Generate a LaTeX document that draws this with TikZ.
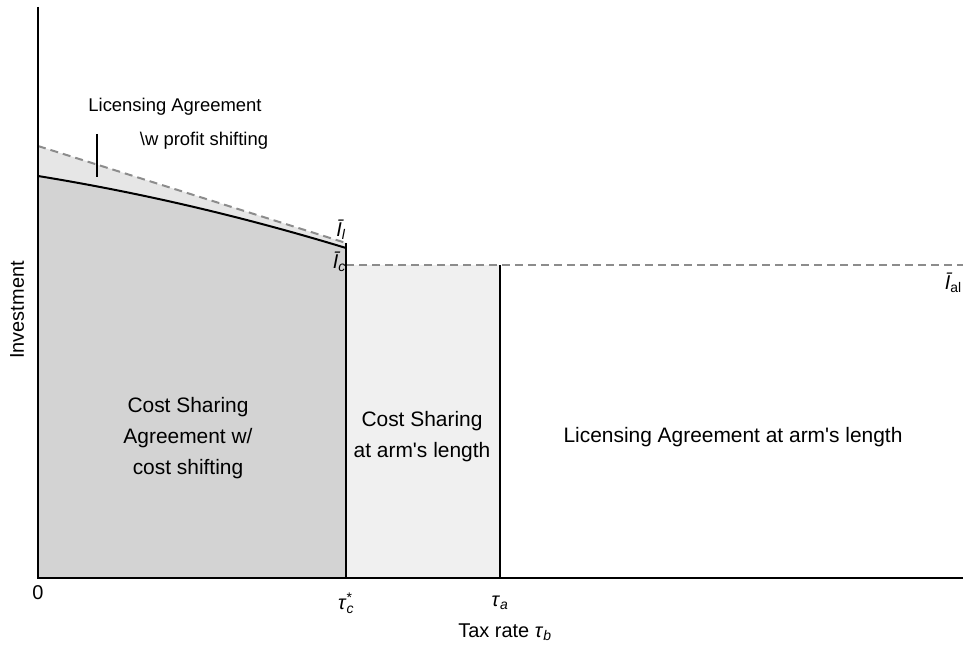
\documentclass[tikz,border=0pt]{standalone}
\usepackage{fontspec}
\setmainfont{Liberation Sans}[Ligatures=TeXOff]
\definecolor{darkfill}{HTML}{D3D3D3}
\definecolor{lightfill}{HTML}{E6E6E6}
\definecolor{midfill}{HTML}{F0F0F0}
\definecolor{dashgray}{HTML}{8C8C8C}
\newcommand{\myIbar}{{\itshape\=I}}
\tikzset{
  axisline/.style={line width=2.8bp, black},
  thinline/.style={line width=1.1bp, black},
  curveline/.style={line width=2bp, black},
  dashline/.style={line width=2bp, dashgray, dash pattern=on 8bp off 5bp},
  lbl/.style={inner sep=0pt, align=center},
  biglbl/.style={lbl, font=\fontsize{21}{31}\selectfont},
  axlbl/.style={lbl, font=\fontsize{20}{24}\selectfont},
}
\begin{document}
\begin{tikzpicture}[x=1bp,y=-1bp, font=\fontsize{18.5}{30}\selectfont]
\useasboundingbox (0,0) rectangle (963,647);
% key coordinates
\coordinate (O) at (38,578);
\coordinate (ytop) at (38,7);
\coordinate (xend) at (963,578);
\coordinate (dl0) at (38,146);
\coordinate (dl1) at (346,243);
\coordinate (c0) at (38,176);
\coordinate (c1) at (346,248);
\coordinate (tc) at (346,578);
\coordinate (tch) at (346,265);
\coordinate (ta) at (500,578);
\coordinate (tah) at (500,265);
\coordinate (alend) at (963,265);
\coordinate (tick0) at (97,134);
\coordinate (tick1) at (97,177);
% fills
\fill[lightfill] (dl0) -- (dl1) -- (c1) .. controls (243.3,216.7) and (140.7,192.7) .. (c0) -- cycle;
\fill[darkfill] (c0) .. controls (140.7,192.7) and (243.3,216.7) .. (c1) -- (tc) -- (O) -- cycle;
\fill[midfill] (tch) rectangle (ta);
% lines
\draw[dashline] (dl0) -- (dl1);
\draw[dashline] (tch) -- (alend);
\draw[curveline] (c0) .. controls (140.7,192.7) and (243.3,216.7) .. (c1);
\draw[thinline] (dl1) -- (tc);
\draw[thinline] (tah) -- (ta);
\draw[thinline] (tick0) -- (tick1);
\draw[axisline] (ytop) -- (O) -- (xend);
% region labels
\node[lbl] (lic) at (175,107) {Licensing Agreement};
\node[lbl] (licw) at (204,141) {\textbackslash w profit shifting};
\node[biglbl] (csa) at (188,438) {Cost Sharing\\Agreement w/\\cost shifting};
\node[biglbl] (csal) at (422,437) {Cost Sharing\\at arm's length};
\node[biglbl] (laal) at (733,437) {Licensing Agreement at arm's length};
% axis labels
\node[axlbl, rotate=90] (ylab) at (17,310) {Investment};
\node[axlbl] (xlab) at (505,632) {Tax rate \textit{τ}\textsubscript{\textit{b}}};
\node[axlbl] (zero) at (38,593) {0};
\node[axlbl] (one) at (968,593) {1};
\node[axlbl] (tcl) at (346,603) {\textit{τ}\rlap{\textsuperscript{*}}\textsubscript{\textit{c}}};
\node[axlbl] (tal) at (500,603) {\textit{τ}\textsubscript{\textit{a}}};
\node[axlbl] (Il) at (341,230) {\myIbar\textsubscript{\textit{l}}};
\node[axlbl, anchor=east] (Ic) at (346,262) {\myIbar\textsubscript{\textit{c}}};
\node[axlbl, anchor=east] (Ial) at (962,283) {\myIbar\textsubscript{al}};
\end{tikzpicture}
\end{document}
